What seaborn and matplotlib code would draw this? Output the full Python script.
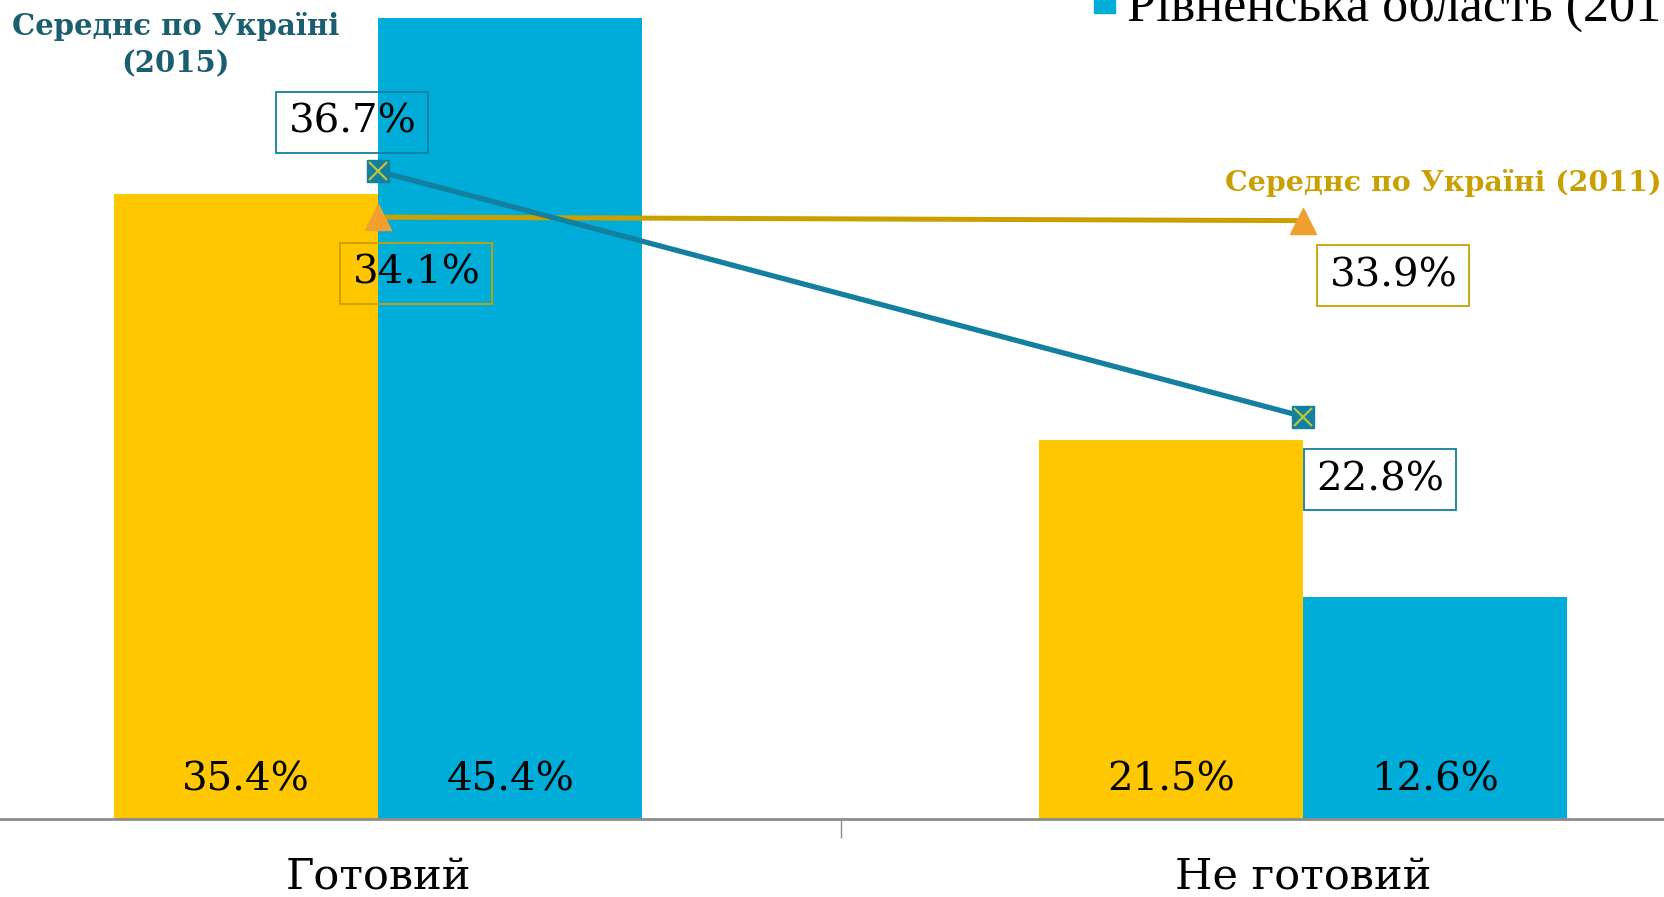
import matplotlib
matplotlib.use("Agg")
import matplotlib.pyplot as plt
import matplotlib.patches as mpatches
import seaborn as sns
import numpy as np
import pandas as pd

categories = ["Готовий", "Не готовий"]
series_names = ["Рівненська область (2011)", "Рівненська область (2015)"]
rivne_2011 = [35.4, 21.5]
rivne_2015 = [45.4, 12.6]
ukraine_2011 = [34.1, 33.9]
ukraine_2015 = [36.7, 22.8]
label_ua_2015 = "Середнє по Україні\n(2015)"
label_ua_2011 = "Середнє по Україні (2011)"

YELLOW = "#FFC700"
BLUE = "#00ADD8"
TEAL = "#12809E"
TEAL_DARK = "#1B5E70"
GOLD = "#C9A000"
ORANGE = "#F0A030"
SERIF = ["DejaVu Serif"]

sns.set_theme(style="white")
plt.rcParams["font.family"] = SERIF
plt.rcParams["text.color"] = "black"
plt.rcParams["xtick.color"] = "black"

df = pd.DataFrame({
    "cat": categories * 2,
    "val": rivne_2011 + rivne_2015,
    "series": [series_names[0]] * 2 + [series_names[1]] * 2,
})

fig = plt.figure(figsize=(16.65, 8.97), dpi=100)
ax = fig.add_axes([0, 78 / 897, 1, 819 / 897])

sns.barplot(data=df, x="cat", y="val", hue="series", palette=[YELLOW, BLUE],
            width=0.571, saturation=1, linewidth=0, legend=False, ax=ax)

# values at the bottom of each bar
for container, vals in zip(ax.containers, [rivne_2011, rivne_2015]):
    for bar, v in zip(container, vals):
        ax.text(bar.get_x() + bar.get_width() / 2, 2.2, f"{v:.1f}%",
                ha="center", va="center", fontsize=29, color="black")

xs = np.arange(len(categories))
# Ukraine 2011 line
sns.lineplot(x=xs, y=ukraine_2011, color=GOLD, linewidth=3.6, ax=ax, zorder=3)
ax.plot(xs, ukraine_2011, linestyle="none", marker="^", markersize=19,
        markerfacecolor=ORANGE, markeredgecolor=ORANGE, zorder=4)
# Ukraine 2015 line
sns.lineplot(x=xs, y=ukraine_2015, color=TEAL, linewidth=3.8, ax=ax, zorder=5)
ax.plot(xs, ukraine_2015, linestyle="none", marker="s", markersize=16,
        markerfacecolor=TEAL, markeredgecolor=TEAL, zorder=6)
ax.plot(xs, ukraine_2015, linestyle="none", marker="x", markersize=13,
        markeredgecolor="#B9C43A", markeredgewidth=1.6, zorder=7)

# boxed line labels
offsets_2015 = [(-26, 49), (77, -63)]
offsets_2011 = [(38, -56), (90, -55)]
for x, v, off in zip(xs, ukraine_2015, offsets_2015):
    ax.annotate(f"{v:.1f}%", (x, v), xytext=off, textcoords="offset pixels",
                ha="center", va="center", fontsize=29, color="black", zorder=8,
                bbox=dict(boxstyle="square,pad=0.3", fc="none", ec=TEAL, lw=1.3))
for x, v, off in zip(xs, ukraine_2011, offsets_2011):
    ax.annotate(f"{v:.1f}%", (x, v), xytext=off, textcoords="offset pixels",
                ha="center", va="center", fontsize=29, color="black", zorder=8,
                bbox=dict(boxstyle="square,pad=0.3", fc="none", ec=GOLD, lw=1.3))

# series names
fig.text(176 / 1665, 1 - 45 / 897, label_ua_2015, ha="center", va="center",
         fontsize=21, fontweight="bold", color=TEAL_DARK, linespacing=1.35)
fig.text(1662 / 1665, 1 - 183 / 897, label_ua_2011, ha="right", va="center",
         fontsize=20.5, fontweight="bold", color=GOLD)

# legend (cut by the top edge of the picture)
fig.patches.append(mpatches.Rectangle((1094 / 1665, 1 - 13 / 897), 21 / 1665, 13 / 897,
                                      transform=fig.transFigure, color=BLUE))
fig.text(1127 / 1665, 1 - 21 / 897, series_names[1], ha="left", va="baseline",
         fontsize=37.5, family=["Liberation Serif"], color="black")

ax.set_xlim(-0.409, 1.391)
ax.set_ylim(0, 46.4)
ax.set_xlabel("")
ax.set_ylabel("")
ax.set_yticks([])
ax.set_xticks(xs)
ax.set_xticklabels(categories, fontsize=31, color="black")
ax.tick_params(axis="x", which="major", bottom=True, length=0, pad=27)
ax.set_xticks([0.5], minor=True)
ax.tick_params(axis="x", which="minor", bottom=True, length=14, width=1,
               color="#8c8c8c", direction="out")
for side in ["top", "left", "right"]:
    ax.spines[side].set_visible(False)
ax.spines["bottom"].set_color("#8c8c8c")
ax.spines["bottom"].set_linewidth(2)

fig.savefig("out.png", dpi=100)
